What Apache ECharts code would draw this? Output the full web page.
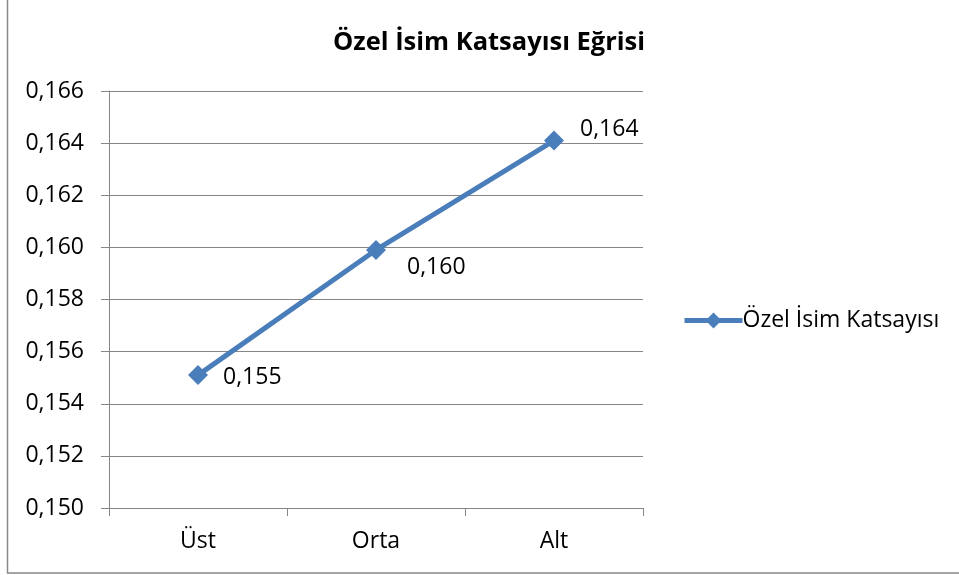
<!DOCTYPE html>
<html>
<head>
<meta charset="utf-8">
<script src="https://cdn.jsdelivr.net/npm/echarts@6/dist/echarts.min.js"></script>
<style>
  html, body { margin: 0; padding: 0; background: #fff; }
  #main { width: 959px; height: 575px; }
</style>
</head>
<body>
<div id="main"></div>
<script>
// 数据
var categories = ['Üst', 'Orta', 'Alt'];
var seriesName = 'Özel İsim Katsayısı';
var values = [0.1551, 0.1599, 0.1641];
var yTicks = [0.150, 0.152, 0.154, 0.156, 0.158, 0.160, 0.162, 0.164, 0.166];

var font = '"Open Sans", sans-serif';
var axisColor = '#868686';
var lineColor = '#4a7ebb';
// 标签偏移（每个点不一样）
var labelOffsets = [[7, 2], [13, 17], [8, -11]];

var myChart = echarts.init(document.getElementById('main'));

var option = {
  animation: false,
  title: {
    text: 'Özel İsim Katsayısı Eğrisi',
    left: 484,
    textAlign: 'center',
    top: 25,
    textStyle: {
      fontFamily: font,
      fontSize: 25.5,
      fontWeight: 'bold',
      color: '#000'
    }
  },
  legend: {
    data: [seriesName],
    left: 677,
    top: 304,
    itemWidth: 58,
    itemHeight: 20,
    itemGap: 0,
    lineStyle: { width: 5 },
    textStyle: {
      fontFamily: font,
      fontSize: 23,
      color: '#000',
      padding: [0, 0, 0, -5]
    }
  },
  grid: {
    left: 109,
    right: 316,
    top: 91,
    bottom: 67
  },
  xAxis: {
    type: 'category',
    data: categories,
    boundaryGap: true,
    axisLine: { lineStyle: { color: axisColor, width: 1 } },
    axisTick: { show: true, length: 8, lineStyle: { color: axisColor } },
    axisLabel: {
      margin: 22,
      fontFamily: font,
      fontSize: 23,
      color: '#000'
    }
  },
  yAxis: {
    type: 'value',
    min: yTicks[0],
    max: yTicks[yTicks.length - 1],
    interval: 0.002,
    axisLine: { show: true, lineStyle: { color: axisColor, width: 1 } },
    axisTick: { show: true, length: 8, lineStyle: { color: axisColor } },
    splitLine: { show: true, lineStyle: { color: axisColor, width: 1 } },
    axisLabel: {
      margin: 25,
      fontFamily: font,
      fontSize: 23,
      color: '#000',
      formatter: function (v) {
        return v.toFixed(3).replace('.', ',');
      }
    }
  },
  series: [{
    name: seriesName,
    type: 'line',
    data: values.map(function (v, i) {
      return { value: v, label: { offset: labelOffsets[i] } };
    }),
    symbol: 'diamond',
    symbolSize: 20,
    lineStyle: { color: lineColor, width: 5 },
    itemStyle: { color: lineColor },
    label: {
      show: true,
      position: 'right',
      distance: 8,
      fontFamily: font,
      fontSize: 23,
      color: '#000',
      formatter: function (p) {
        return p.value.toFixed(3).replace('.', ',');
      }
    }
  }],
  graphic: [{
    type: 'rect',
    shape: { x: 7.5, y: -5, width: 1000, height: 578 },
    style: { fill: 'none', stroke: '#898989', lineWidth: 1.5 },
    silent: true
  }]
};

myChart.setOption(option);
</script>
</body>
</html>
